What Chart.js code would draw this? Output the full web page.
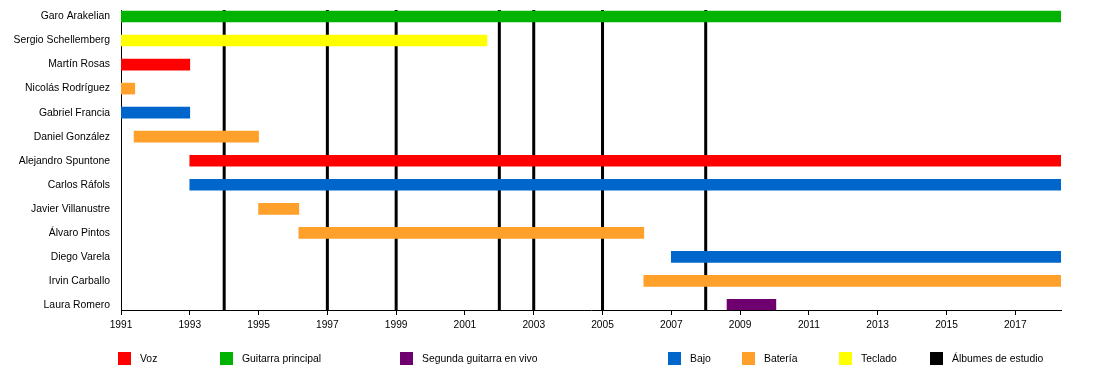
<!DOCTYPE html>
<html>
<head>
<meta charset="utf-8">
<script src="https://cdn.jsdelivr.net/npm/chart.js@4.4.0/dist/chart.umd.min.js"></script>
<style>
  html, body { margin: 0; padding: 0; background: #fff; }
  #wrap { position: relative; width: 1100px; height: 370px; }
  #legend { position: absolute; left: 0; top: 0; width: 1100px; height: 370px; pointer-events: none; }
  .lg-box { position: absolute; width: 13px; height: 13px; }
  .lg-txt { position: absolute; font-family: "Liberation Sans", Arial, sans-serif; font-size: 10.4px; color: #000; line-height: 13px; white-space: nowrap; }
</style>
</head>
<body>
<div id="wrap">
  <canvas id="c" width="1100" height="370"></canvas>
  <div id="legend"></div>
</div>
<script>
// ---- data ----
const members = ["Garo Arakelian", "Sergio Schellemberg", "Martín Rosas", "Nicolás Rodríguez", "Gabriel Francia",
  "Daniel González", "Alejandro Spuntone", "Carlos Ráfols", "Javier Villanustre", "Álvaro Pintos",
  "Diego Varela", "Irvin Carballo", "Laura Romero"];
const END_YEAR = 2018.33;
const starts = [1991, 1991, 1991, 1991, 1991, 1991.38, 1993, 1993, 1995, 1996.17, 2007, 2006.2, 2008.62];
const ends = [END_YEAR, 2001.64, 1993, 1991.4, 1993, 1995, END_YEAR, END_YEAR, 1996.17, 2006.2, END_YEAR, END_YEAR, 2010.04];
const memberRoles = ["Guitarra principal", "Teclado", "Voz", "Batería", "Bajo", "Batería", "Voz", "Bajo",
  "Batería", "Batería", "Bajo", "Batería", "Segunda guitarra en vivo"];
const roles = ["Voz", "Guitarra principal", "Segunda guitarra en vivo", "Bajo", "Batería", "Teclado"];
const roleColors = ["#ff0000", "#00b300", "#700070", "#0066cc", "#ffa02a", "#ffff00"];
const albumLabel = "Álbumes de estudio";
const albums = [1994, 1997, 1999, 2002, 2003, 2005, 2008];
const tickYears = [1991, 1993, 1995, 1997, 1999, 2001, 2003, 2005, 2007, 2009, 2011, 2013, 2015, 2017];
const START_YEAR = 1991;

// ---- layout (not data) ----
const legendX = [118, 220, 400, 668, 742, 839, 930];
const legendY = 352;
const Y_MIN = -0.27, Y_MAX = 12.21;

const datasets = [];
roles.forEach((role, r) => {
  const pts = [];
  members.forEach((m, i) => {
    if (memberRoles[i] === role) pts.push({ y: i, x: [starts[i], ends[i]] });
  });
  datasets.push({
    type: 'bar',
    label: role,
    data: pts,
    backgroundColor: roleColors[r],
    borderWidth: 0,
    barThickness: 11,
    grouped: false,
    order: 1
  });
});
albums.forEach((a) => {
  datasets.push({
    type: 'line',
    label: albumLabel,
    data: [{ x: a, y: Y_MIN }, { x: a, y: Y_MAX }],
    borderColor: '#000',
    borderWidth: 3,
    pointRadius: 0,
    fill: false,
    order: 10
  });
});

const font = { family: '"Liberation Sans", Arial, sans-serif', size: 10.4 };

new Chart(document.getElementById('c'), {
  type: 'bar',
  data: { datasets },
  options: {
    responsive: false,
    animation: false,
    indexAxis: 'y',
    layout: { padding: { left: 0, right: 39, top: 10, bottom: 30 } },
    plugins: { legend: { display: false }, tooltip: { enabled: false } },
    scales: {
      x: {
        type: 'linear',
        position: 'bottom',
        offset: false,
        min: START_YEAR,
        max: END_YEAR,
        afterBuildTicks: (s) => { s.ticks = tickYears.map(v => ({ value: v })); },
        afterFit: (s) => { s.height = 30; s.paddingLeft = 0; s.paddingRight = 0; },
        grid: { drawOnChartArea: false, drawTicks: true, tickLength: 5, color: '#000', lineWidth: 1, offset: false },
        border: { display: true, color: '#000', width: 1 },
        ticks: { color: '#000', font: { family: font.family, size: 10.2 }, padding: 4, maxRotation: 0, autoSkip: false,
          callback: (v) => String(v) }
      },
      y: {
        type: 'linear',
        position: 'left',
        reverse: true,
        offset: false,
        min: Y_MIN,
        max: Y_MAX,
        afterBuildTicks: (s) => { s.ticks = members.map((_, i) => ({ value: i })); },
        afterFit: (s) => { s.width = 121; s.paddingTop = 0; s.paddingBottom = 0; },
        grid: { drawOnChartArea: false, drawTicks: false, offset: false },
        border: { display: true, color: '#000', width: 1 },
        ticks: { color: '#000', font, padding: 11, autoSkip: false,
          callback: (v) => members[v] !== undefined ? members[v] : '' }
      }
    }
  }
});

// HTML legend built from the same roles/colours
const lg = document.getElementById('legend');
const items = roles.map((r, i) => ({ label: r, color: roleColors[i] })).concat([{ label: albumLabel, color: '#000' }]);
items.forEach((it, i) => {
  const b = document.createElement('div');
  b.className = 'lg-box';
  b.style.left = legendX[i] + 'px';
  b.style.top = legendY + 'px';
  b.style.background = it.color;
  lg.appendChild(b);
  const t = document.createElement('div');
  t.className = 'lg-txt';
  t.style.left = (legendX[i] + 22) + 'px';
  t.style.top = (legendY) + 'px';
  t.textContent = it.label;
  lg.appendChild(t);
});
</script>
</body>
</html>
